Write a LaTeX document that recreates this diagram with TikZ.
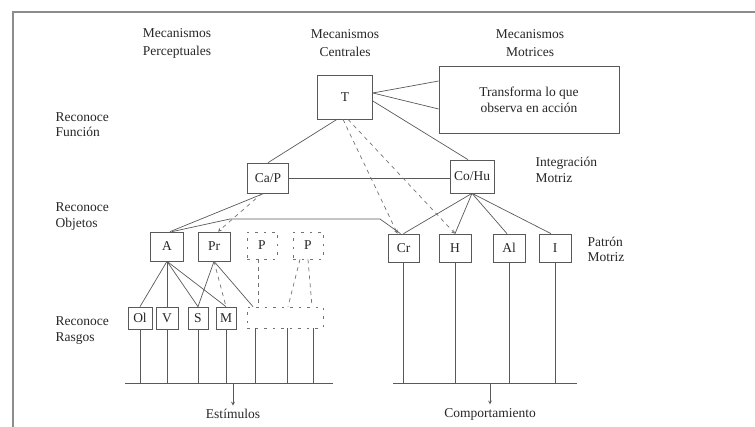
\documentclass[tikz,border=0pt]{standalone}
\usepackage{fontspec}
\setmainfont{Liberation Serif}
\usepackage{tikz}
\usetikzlibrary{arrows,shapes}

\begin{document}
\begin{tikzpicture}[x=1pt, y=-1pt, line width=.7pt,
	every node/.style={font=\fontsize{13.5}{15.5}\selectfont, text=black!85},
	box/.style={draw=black!65, inner sep=0pt, minimum height=#1},
	box/.default=28pt,
	dbox/.style={draw=black!55, dash pattern=on 2.5pt off 6pt, inner sep=0pt},
	head/.style={align=center, font=\fontsize{13.5}{18}\selectfont},
	side/.style={align=left, anchor=west},
	ln/.style={draw=black!65},
	dl/.style={draw=black!55, dash pattern=on 4pt off 4pt},
	darr/.style={dl, -stealth}]
	\useasboundingbox (0,0) rectangle (755,427);
	\draw[black!45, line width=1.3pt] (755,12) -- (13,12) -- (13,427);
	\node[head] (hper) at (177,43) {Mecanismos\\Perceptuales};
	\node[head] (hcen) at (345,43) {Mecanismos\\Centrales};
	\node[head] (hmot) at (530,43) {Mecanismos\\Motrices};
	\node[side] (lfun) at (52,124.5) {Reconoce\\Funci\'on};
	\node[side] (lobj) at (52,216.5) {Reconoce\\Objetos};
	\node[side] (lras) at (52,330.5) {Reconoce\\Rasgos};
	\node[side] (lint) at (532,170) {Integraci\'on\\Motriz};
	\node[side] (lpat) at (584,249.5) {Patr\'on\\Motriz};
	\node[box=44pt, minimum width=55pt] (t) at (345,97) {T};
	\node[box=67pt, minimum width=180pt, align=center] (tr) at (529,100) {Transforma lo que\\observa en acci\'on};
	\node[box=30pt, minimum width=41pt] (cap) at (268,178) {Ca/P};
	\node[box=33pt, minimum width=44pt] (cohu) at (472,176.5) {Co/Hu};
	\node[box=29pt, minimum width=33pt] (a) at (167,246.5) {A};
	\node[box=29pt, minimum width=32pt] (pr) at (214,246.5) {Pr};
	\node[dbox, minimum height=27pt, minimum width=30pt] (p1) at (262,245.5) {P};
	\node[dbox, minimum height=27pt, minimum width=30pt] (p2) at (308,245.5) {P};
	\node[box=22pt, minimum width=24pt] (ol) at (140,318) {Ol};
	\node[box=22pt, minimum width=22pt] (v) at (167,318) {V};
	\node[box=22pt, minimum width=20pt] (s) at (198,318) {S};
	\node[box=22pt, minimum width=20pt] (m) at (226,318) {M};
	\node[dbox, minimum height=21pt, minimum width=76pt] (rr) at (285,317.5) {};
	\node[box, minimum width=31pt] (cr) at (403.5,248) {Cr};
	\node[box, minimum width=32pt] (h) at (455,248) {H};
	\node[box, minimum width=32pt] (al) at (509,248) {Al};
	\node[box, minimum width=32pt] (i) at (555,248) {I};
	\node (est) at (233,414) {Est\'imulos};
	\node (comp) at (490,414) {Comportamiento};
	\coordinate (bl1) at (125,383);
	\coordinate (bl2) at (333,383);
	\coordinate (br1) at (393,383);
	\coordinate (br2) at (577,383);
	\coordinate (k1) at (230,219);
	\coordinate (k2) at (380,219);
	% central
	\draw[ln] ([yshift=4pt]t.east) -- ([yshift=19pt]tr.west);
	\draw[ln] ([yshift=4pt]t.east) -- ([yshift=-9pt]tr.west);
	\draw[ln] ([yshift=-4pt]t.east) -- ([xshift=-4pt]cohu.north);
	\draw[ln] ([xshift=-8pt]t.south) -- (cap.north);
	\draw[ln] (cap.east) -- (cap.east -| cohu.west);
	\draw[darr] ([xshift=-2pt]t.south) -- ([xshift=-6pt]cr.north);
	\draw[darr] ([xshift=3pt]t.south) -- (h.north);
	% perceptual
	\draw[ln] ([xshift=-4pt]cap.south) -- ([xshift=3pt]a.north);
	\draw[darr] ([xshift=-6pt]cap.south) -- ([xshift=4pt]pr.north);
	\draw[ln] ([xshift=5pt]a.north) -- (k1) -- (k2) -- ([xshift=-3pt]cr.north);
	\foreach \n in {ol,v,s,m}
	\draw[ln] (a.south) -- (\n.north);
	\draw[ln] (pr.south) -- (s.north);
	\draw[ln] (pr.south) -- (253,0 |- rr.north);
	\draw[dl] (pr.south) -- (m.north);
	\draw[dl] ([xshift=-4pt]p1.south) -- ([xshift=-4pt]p1.south |- rr.north);
	\draw[dl] ([xshift=-8pt]p2.south) -- (288,0 |- rr.north);
	\draw[dl] (p2.south) -- (312,0 |- rr.north);
	% motor
	\foreach \n/\d in {cr/0,h/0,al/-2,i/-4}
	\draw[ln] (cohu.south) -- ([xshift=\d pt]\n.north);
	% bottom lines
	\foreach \n in {ol,v,s,m}
	\draw[ln] (\n.south) -- (\n.south |- bl1);
	\foreach \x in {255,287,313}
	\draw[ln] (\x,0 |- rr.south) -- (\x,0 |- bl1);
	\foreach \n in {cr,h,al,i}
	\draw[ln] (\n.south) -- (\n.south |- br1);
	\draw[ln] (bl1) -- (bl2);
	\draw[ln] (br1) -- (br2);
	\draw[ln, -stealth] (est.north |- bl1) -- (est.north);
	\draw[ln, -stealth] (comp.north |- br1) -- (comp.north);
\end{tikzpicture}
\end{document}
